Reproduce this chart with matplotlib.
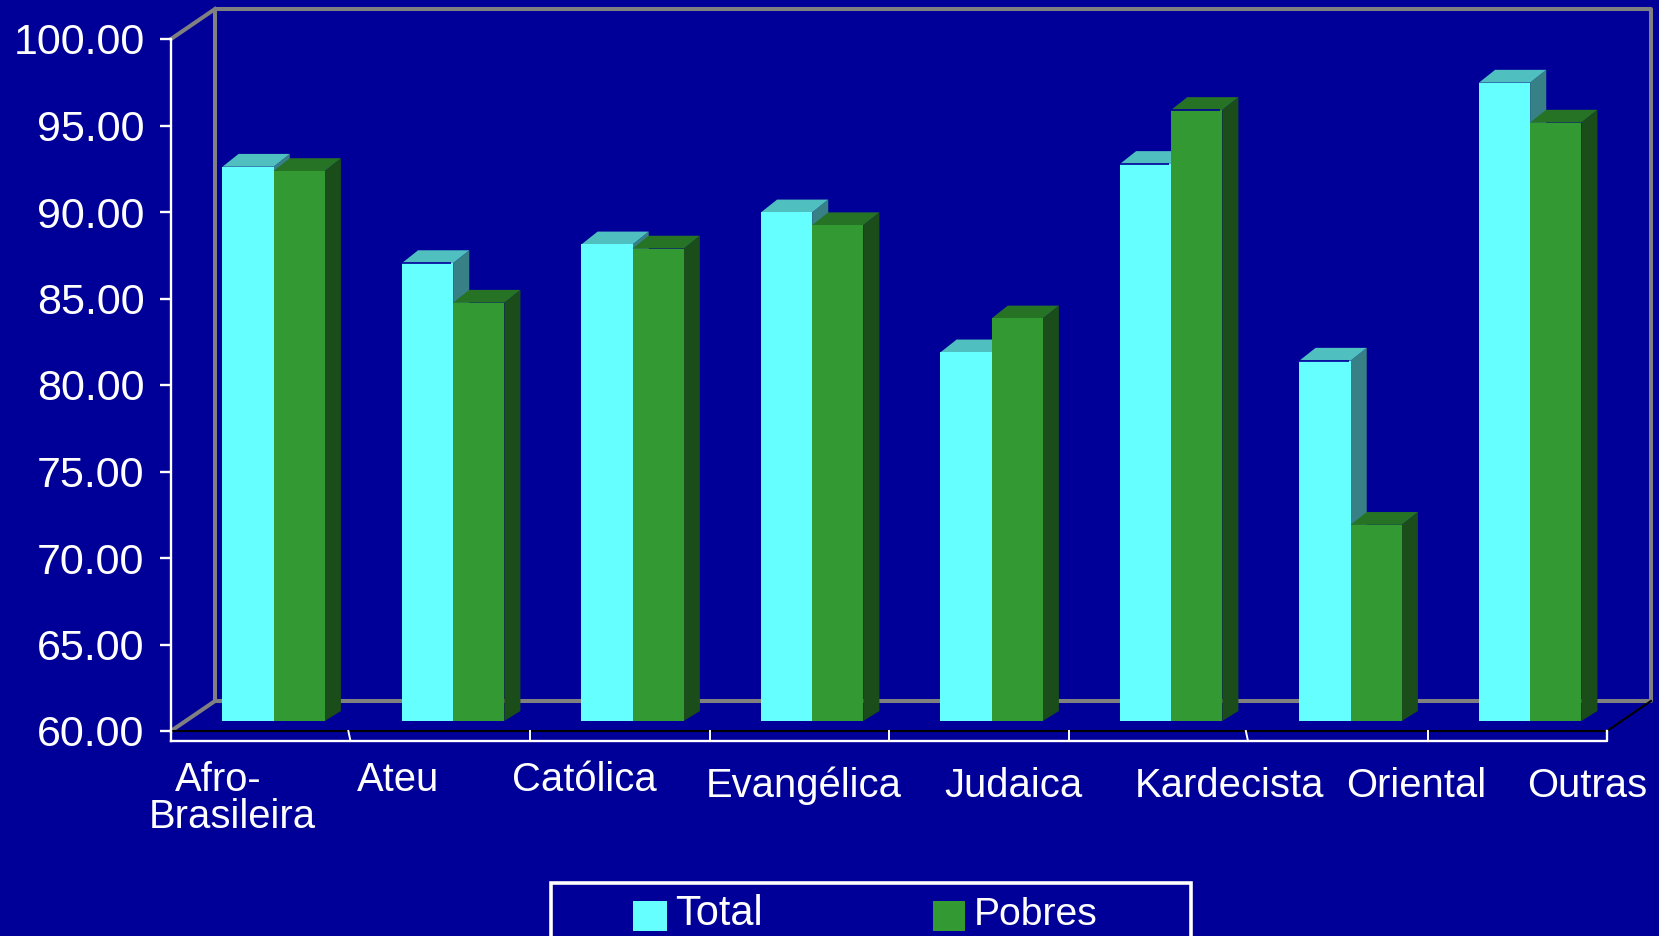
"""
Grouped pseudo-3D bar chart: Total vs Pobres by religion
"""

import matplotlib
matplotlib.use('Agg')
import matplotlib.pyplot as plt
from matplotlib.patches import Rectangle

# Data
categories = ['Afro-Brasileira', 'Ateu', 'Católica', 'Evangélica',
              'Judaica', 'Kardecista', 'Oriental', 'Outras']
total = [92.04, 86.47, 87.55, 89.40, 81.31, 92.20, 80.83, 96.90]
pobres = [91.79, 84.18, 87.31, 88.66, 83.27, 95.32, 71.34, 94.59]
y_ticks = [60, 65, 70, 75, 80, 85, 90, 95, 100]

# Style
WIDTH, HEIGHT = 1659, 936
BG = '#000099'
GREY = '#808080'
CYAN = ('#66FFFF', '#50BFBF', '#368086')
GREEN = ('#339933', '#267326', '#1A4D1A')

# Plot box in pixels
LEFT, RIGHT, TOP, BOTTOM = 171, 1607, 39, 731
DEPTH_X, DEPTH_Y = 44, 30
BAR_D0 = 1 / 3
BAR_DX, BAR_DTOP, BAR_DBASE = 0.70, 0.76, 2 / 3  # back edge, the source is not a true projection
BAR_W = 0.285

plt.rcParams['font.family'] = ['Liberation Sans', 'DejaVu Sans']

fig = plt.figure(figsize=(WIDTH / 100, HEIGHT / 100), dpi=100, facecolor=BG)
ax = fig.add_axes([LEFT / WIDTH, 1 - BOTTOM / HEIGHT,
                   (RIGHT - LEFT) / WIDTH, (BOTTOM - TOP) / HEIGHT])
ax.set_facecolor('none')
ax.set_xlim(0, len(categories))
ax.set_ylim(60, 100)

# Depth expressed in data units of the axes
dx_unit = DEPTH_X / ((RIGHT - LEFT) / len(categories))
dy_unit = DEPTH_Y / ((BOTTOM - TOP) / 40)
n = len(categories)


def depth(x, y, d):
    return x + d * dx_unit, y + d * dy_unit


def fig_text(x, y, s, size, ha='center'):
    fig.text(x / WIDTH, 1 - y / HEIGHT, s, color='white', fontsize=size,
             ha=ha, va='baseline')


# Walls and floor
wall = dict(color=GREY, lw=2.9, clip_on=False, zorder=1, solid_capstyle='projecting')
bx0, by0 = depth(0, 60, 1)
bx1, by1 = depth(n, 100, 1)
ax.plot([bx0, bx0, bx1, bx1, bx0], [by0, by1, by1, by0, by0], **wall)
ax.plot([0, bx0], [60, by0], color=GREY, lw=2.9, clip_on=False, zorder=1)
ax.plot([0, bx0], [100, by1], color=GREY, lw=2.9, clip_on=False, zorder=1)
ax.plot([0, n, bx1], [60, 60, by0], color='black', lw=1.5, clip_on=False, zorder=2)


def draw_bar(x, value, colors, z, gap=False):
    front, top, side = colors
    x0, y0 = depth(x, 60, BAR_D0)
    x1 = x0 + BAR_W
    y1 = depth(x, value, BAR_D0)[1]
    xb0 = depth(x, value, BAR_DX)[0]
    xb = xb0 + BAR_W
    yb = depth(x, value, BAR_DTOP)[1]
    yf = depth(x, 60, BAR_DBASE)[1]
    # side then top then front
    ax.fill([x1, xb, xb, x1], [y0, yf, yb, y1], color=side, lw=0, clip_on=False, zorder=z)
    ax.fill([x0, xb0, xb, x1], [y1, yb, yb, y1], color=top, lw=0, clip_on=False, zorder=z)
    ax.bar(x0, y1 - y0, width=BAR_W, bottom=y0, align='edge', color=front,
           lw=0, clip_on=False, zorder=z)
    if gap:
        ax.plot([x0, x1 - 0.01], [y1, y1], color=BG, lw=1.2, clip_on=False, zorder=z,
                solid_capstyle='butt')


# Bars
gap_total = [False, True, False, False, False, True, True, False]
gap_pobres = [False, False, False, False, False, True, False, False]
for i in range(n):
    draw_bar(i + 0.205, total[i], CYAN, 3 + 2 * i, gap_total[i])
    draw_bar(i + 0.205 + BAR_W, pobres[i], GREEN, 4 + 2 * i, gap_pobres[i])

# Axes
for name in ['top', 'right', 'bottom']:
    ax.spines[name].set_visible(False)
ax.spines['left'].set_color('white')
ax.spines['left'].set_linewidth(1.7)
ax.spines['left'].set_bounds(60 - 10 / ((BOTTOM - TOP) / 40), 100)
ax.set_yticks(y_ticks)
ax.set_yticklabels([f'{v:.2f}' for v in y_ticks], color='white', fontsize=31,
                   va='center_baseline')
ax.tick_params(axis='y', color='white', width=1.7, length=8, pad=11)
ax.set_xticks([])

# Lower frame with the category ticks, two of them lean a little
y_low = 60 - 10 / ((BOTTOM - TOP) / 40)
ax.plot([0, n, n], [y_low, y_low, 60], color='white', lw=1.7, clip_on=False, zorder=2)
slant = [0, 0.012, 0, 0, 0, 0, 0.012, 0, 0]
for i in range(1, n + 1):
    ax.plot([i - slant[i], i], [60, y_low], color='white', lw=1.4, clip_on=False, zorder=2)

# Category labels sit unevenly in the reference
fig_text(218.6, 790.7, 'Afro-', 28.8)
fig_text(232, 828, 'Brasileira', 28.8)
label_x = [398, 584, 804, 1013, 1230, 1416, 1587]
label_y = [790.7, 790.7, 796.7, 796.7, 796.7, 796.7, 796.7]
for name, lx, ly in zip(categories[1:], label_x, label_y):
    fig_text(lx, ly, name, 28.8)

# Legend
fig.add_artist(Rectangle((551 / WIDTH, 1 - 945 / HEIGHT), 640 / WIDTH, 62 / HEIGHT,
                         transform=fig.transFigure, facecolor='none',
                         edgecolor='white', lw=2.6))
fig.add_artist(Rectangle((633 / WIDTH, 1 - 931 / HEIGHT), 34 / WIDTH, 30 / HEIGHT,
                         transform=fig.transFigure, color=CYAN[0], lw=0))
fig.add_artist(Rectangle((933 / WIDTH, 1 - 931 / HEIGHT), 32 / WIDTH, 30 / HEIGHT,
                         transform=fig.transFigure, color=GREEN[0], lw=0))
fig_text(675, 925, 'Total', 30, ha='left')
fig_text(974, 925, 'Pobres', 28.2, ha='left')

fig.savefig('out.png', dpi=100, facecolor=BG)
